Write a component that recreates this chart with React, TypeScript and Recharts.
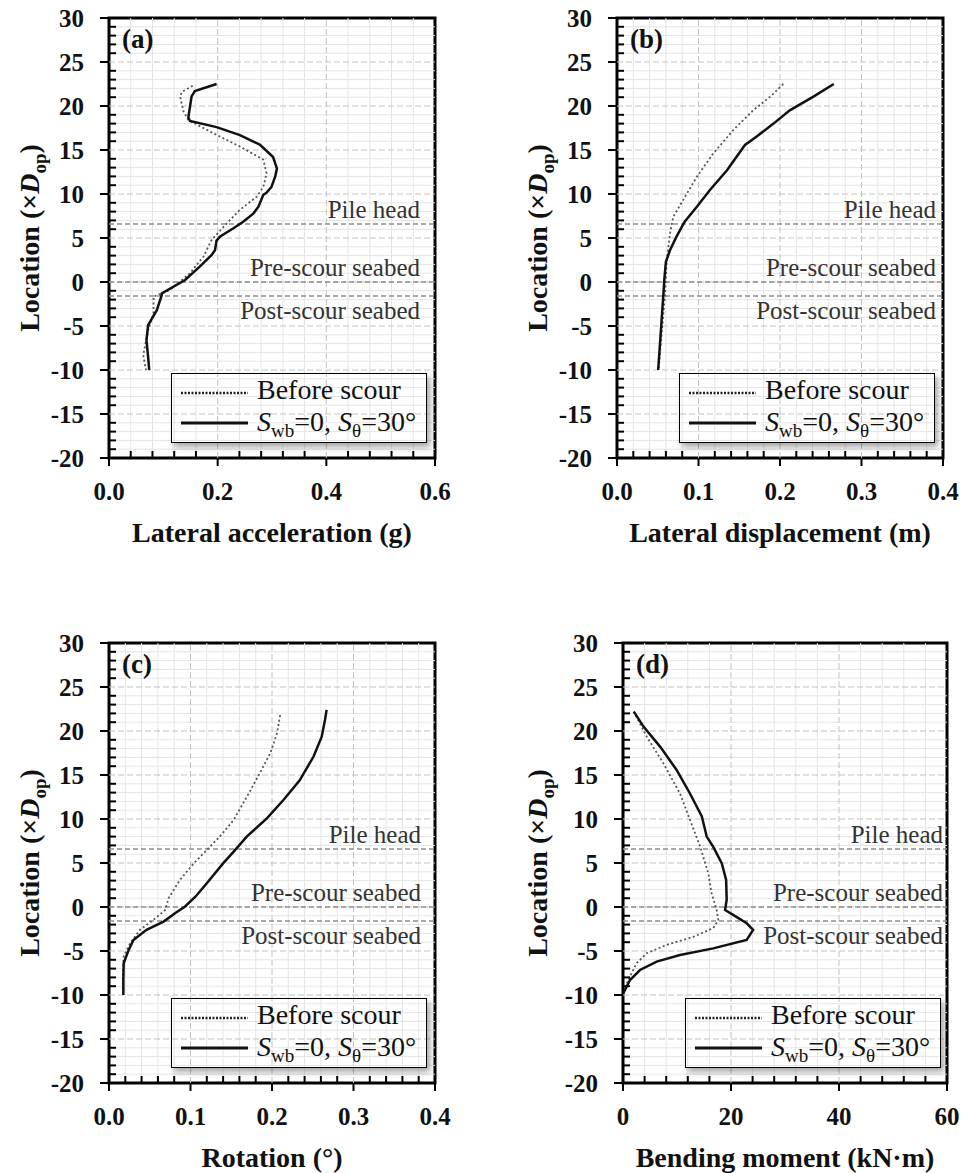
import { LineChart, Line, XAxis, YAxis, ReferenceLine, ReferenceArea } from 'recharts';

const SERIF = '"Liberation Serif", "Times New Roman", serif';
const INK = '#111';

// depth axis (×Dop), shared by all four panels
const yMajor = [-20, -15, -10, -5, 0, 5, 10, 15, 20, 25, 30];

const pileHead = 6.6;
const preScour = 0;
const postScour = -1.6;

// rows are [location (×Dop), value]
const accelBefore = [
  [22.3, 0.154], [21.6, 0.134], [21.06, 0.131], [19.4, 0.137], [18.4, 0.146], [16.9, 0.192],
  [15.4, 0.241], [13.9, 0.284], [12.35, 0.29], [10.8, 0.284], [9.7, 0.272], [8.2, 0.241],
  [6.67, 0.217], [4.8, 0.189], [2.9, 0.174], [0.98, 0.149], [-0.9, 0.112], [-1.67, 0.082],
  [-3.56, 0.082], [-5.45, 0.072], [-8.3, 0.063], [-10, 0.068],
];
const accelScour = [
  [22.5, 0.198], [21.7, 0.158], [21.1, 0.152], [18.7, 0.146], [18.3, 0.149], [17.6, 0.198],
  [16.7, 0.241], [15.6, 0.278], [14.2, 0.302], [12.9, 0.309], [12.0, 0.306], [10.8, 0.299],
  [10.15, 0.29], [9.9, 0.284], [8.56, 0.275], [7.8, 0.266], [6.85, 0.247], [6.1, 0.229],
  [5.15, 0.204], [4.7, 0.198], [3.6, 0.195], [3.07, 0.189], [1.74, 0.167], [0.23, 0.14],
  [-1.3, 0.097], [-1.5, 0.097], [-3.2, 0.088], [-4.9, 0.072], [-6.6, 0.069], [-8.5, 0.072],
  [-10, 0.074],
];

const dispBefore = [
  [22.5, 0.204], [21.06, 0.188], [19.5, 0.167], [17.3, 0.143], [14.6, 0.118], [11.97, 0.098],
  [9.3, 0.081], [7.4, 0.069], [5.5, 0.065], [2.5, 0.061], [-1.3, 0.059], [-10, 0.051],
];
const dispScour = [
  [22.5, 0.266], [21.06, 0.241], [19.5, 0.212], [18.0, 0.192], [16.5, 0.171], [15.57, 0.157],
  [12.7, 0.135], [10.45, 0.114], [8.56, 0.098], [6.85, 0.083], [5.15, 0.073], [3.6, 0.065],
  [2.3, 0.06], [0.2, 0.058], [-1.3, 0.057], [-10, 0.0505],
];

const rotBefore = [
  [21.8, 0.21], [19.7, 0.206], [17.5, 0.198], [15.2, 0.185], [12.5, 0.169], [9.9, 0.153],
  [8.0, 0.136], [6.48, 0.12], [4.96, 0.104], [3.07, 0.087], [0.99, 0.073], [-0.34, 0.069],
  [-1.5, 0.054], [-2.6, 0.038], [-4.1, 0.026], [-5.6, 0.018], [-7.5, 0.017], [-10, 0.017],
];
const rotScour = [
  [22.4, 0.267], [21.25, 0.265], [19.35, 0.261], [17.1, 0.251], [14.4, 0.234], [12.16, 0.214],
  [10.1, 0.194], [8.0, 0.169], [6.3, 0.153], [4.96, 0.14], [2.69, 0.12], [1.17, 0.106],
  [0.03, 0.093], [-0.7, 0.081], [-1.66, 0.067], [-2.6, 0.046], [-3.75, 0.03], [-4.9, 0.024],
  [-6.4, 0.018], [-8.3, 0.0176], [-10, 0.0176],
];

const momentBefore = [
  [22.2, 2.0], [19.35, 4.4], [16.3, 7.5], [12.9, 10.55], [9.9, 12.4], [6.85, 14.3], [3.8, 15.8],
  [1.55, 16.4], [-0.34, 17.35], [-1.5, 17.65], [-2.4, 16.7], [-3.4, 13.0], [-4.3, 8.1],
  [-5.26, 4.4], [-6.4, 2.5], [-7.9, 1.3], [-9.4, 0.19],
];
const momentScour = [
  [22.2, 2.0], [20.5, 3.8], [18.2, 6.9], [15.6, 9.9], [12.9, 12.4], [10.3, 14.6], [8.0, 15.5],
  [6.85, 16.7], [4.96, 18.3], [3.07, 19.1], [0.8, 19.2], [-0.34, 18.9], [-0.9, 20.4],
  [-1.85, 22.9], [-2.6, 24.1], [-3.75, 22.9], [-4.7, 16.7], [-5.45, 10.55], [-6.2, 6.24],
  [-7.16, 3.15], [-8.3, 1.3], [-9.8, 0.06],
];

const accelTicks = [0, 0.2, 0.4, 0.6];
const dispTicks = [0, 0.1, 0.2, 0.3, 0.4];
const rotTicks = [0, 0.1, 0.2, 0.3, 0.4];
const momentTicks = [0, 20, 40, 60];

const PLOT_LEFT = 109;
const PLOT_TOP = 20;
const PLOT_H = 440;
const X_AXIS_H = 110;

const panels = [
  { tag: '(a)', title: 'Lateral acceleration (g)', ticks: accelTicks, step: 0.04, digits: 1, before: accelBefore, scour: accelScour, left: 0, top: -2, plotW: 326, inset: 15, titleGap: 80 },
  { tag: '(b)', title: 'Lateral displacement (m)', ticks: dispTicks, step: 0.02, digits: 1, before: dispBefore, scour: dispScour, left: 508, top: -2, plotW: 326, inset: 7, titleGap: 80 },
  { tag: '(c)', title: 'Rotation (°)', ticks: rotTicks, step: 0.02, digits: 1, before: rotBefore, scour: rotScour, left: 0, top: 623, plotW: 326, inset: 14, titleGap: 80 },
  { tag: '(d)', title: 'Bending moment (kN·m)', ticks: momentTicks, step: 4, digits: 0, before: momentBefore, scour: momentScour, left: 514, top: 623, plotW: 324, inset: 4, titleGap: 86 },
];

const between = (lo: number, hi: number, step: number, skip: number[]) => {
  const out: number[] = [];
  const n = Math.round((hi - lo) / step);
  for (let k = 1; k < n; k++) {
    const v = +(lo + k * step).toFixed(6);
    if (!skip.some((s) => Math.abs(s - v) < 1e-9)) out.push(v);
  }
  return out;
};
const hasValue = (list: number[], v: number) => list.some((m) => Math.abs(m - v) < 1e-9);
const toPts = (rows: number[][]) => rows.map(([loc, v]) => ({ loc, v }));

const tickText = { fontFamily: SERIF, fontWeight: 'bold' as const, fontSize: 25, fill: INK };

const XTick = ({ x, y, payload, majors, digits }: any) => {
  const v = payload.value;
  const major = hasValue(majors, v);
  const axisY = y - 24;
  return (
    <g>
      <line x1={x} x2={x} y1={axisY} y2={major ? axisY + 8 : axisY - 7} stroke="#000" strokeWidth={2} />
      {major && (
        <text x={x} y={y} dy="0.71em" textAnchor="middle" {...tickText}>
          {v.toFixed(digits)}
        </text>
      )}
    </g>
  );
};

const YTick = ({ x, y, payload }: any) => {
  const v = payload.value;
  const major = hasValue(yMajor, v);
  const axisX = x + 25;
  return (
    <g>
      <line x1={axisX} x2={major ? axisX - 9 : axisX + 7} y1={y} y2={y} stroke="#000" strokeWidth={2} />
      {major && (
        <text x={x} y={y} dy="0.35em" textAnchor="end" {...tickText}>
          {v}
        </text>
      )}
    </g>
  );
};

const box = (props: any) => props.viewBox ?? { x: 0, y: 0, width: 0, height: 0 };

const yTitle = (gap: number) => (props: any) => {
  const vb = box(props);
  const cx = vb.x + vb.width - gap;
  const cy = vb.y + vb.height / 2;
  return (
    <text x={cx} y={cy} dy="0.35em" transform={`rotate(-90 ${cx} ${cy})`} textAnchor="middle"
      fontFamily={SERIF} fontWeight="bold" fontSize={28} fill={INK}>
      Location (×<tspan fontStyle="italic">D</tspan>
      <tspan dy={7} fontSize={19}>op</tspan>
      <tspan dy={-7}>)</tspan>
    </text>
  );
};

const xTitle = (title: string) => (props: any) => {
  const vb = box(props);
  return (
    <text x={vb.x + vb.width / 2} y={vb.y + 84} textAnchor="middle"
      fontFamily={SERIF} fontWeight="bold" fontSize={28} fill={INK}>
      {title}
    </text>
  );
};

const markLabel = (text: string, inset: number, below: boolean) => (props: any) => {
  const vb = box(props);
  return (
    <text x={vb.x + vb.width - inset} y={below ? vb.y + 23 : vb.y - 6} textAnchor="end"
      fontFamily={SERIF} fontSize={25} fill="#333">
      {text}
    </text>
  );
};

const LegendBox = () => (
  <div style={{
    position: 'absolute', left: PLOT_LEFT + 62, top: PLOT_TOP + 355, width: 256, height: 70,
    border: '1.5px solid #000', boxSizing: 'border-box', boxShadow: '3px 4px 6px rgba(0,0,0,0.35)',
  }}>
    <svg width={254} height={68} style={{ display: 'block' }}>
      <line x1={9} x2={76} y1={19} y2={19} stroke="#222" strokeWidth={2.5} strokeDasharray="2 1.5" />
      <text x={85} y={25} fontFamily={SERIF} fontSize={28} fill={INK}>Before scour</text>
      <line x1={9} x2={76} y1={49} y2={49} stroke="#111" strokeWidth={3} />
      <text x={85} y={57} fontFamily={SERIF} fontSize={28} fill={INK}>
        <tspan fontStyle="italic">S</tspan>
        <tspan dy={6} fontSize={19}>wb</tspan>
        <tspan dy={-6}>=0, </tspan>
        <tspan fontStyle="italic">S</tspan>
        <tspan dy={6} fontSize={19}>θ</tspan>
        <tspan dy={-6}>=30°</tspan>
      </text>
    </svg>
  </div>
);

const PanelTag = ({ tag }: { tag: string }) => (
  <svg width={60} height={44} style={{ position: 'absolute', left: PLOT_LEFT, top: PLOT_TOP, pointerEvents: 'none' }}>
    <text x={13} y={30} fontFamily={SERIF} fontWeight="bold" fontSize={27} fill={INK}>{tag}</text>
  </svg>
);

const Panel = ({ p }: { p: (typeof panels)[number] }) => {
  const xMin = p.ticks[0];
  const xMax = p.ticks[p.ticks.length - 1];
  const xMinor = between(xMin, xMax, p.step, p.ticks);
  const yMinor = between(-20, 30, 1, yMajor);
  const xAll = [...p.ticks, ...xMinor].sort((a, b) => a - b);
  const yAll = [...yMajor, ...yMinor].sort((a, b) => a - b);
  const xInner = p.ticks.slice(1, -1);
  const yInner = yMajor.slice(1, -1);
  const width = PLOT_LEFT + p.plotW + 20;

  return (
    <div style={{ position: 'absolute', left: p.left, top: p.top }}>
      <LineChart width={width} height={PLOT_TOP + PLOT_H + X_AXIS_H}
        margin={{ top: PLOT_TOP, right: 20, bottom: 0, left: PLOT_LEFT - 100 }}>
        <XAxis type="number" dataKey="v" domain={[xMin, xMax]} allowDataOverflow ticks={xAll} interval={0}
          tickSize={0} tickMargin={24} axisLine={false} tickLine={false} height={X_AXIS_H}
          tick={(t: any) => <XTick {...t} majors={p.ticks} digits={p.digits} />} label={xTitle(p.title)} />
        <YAxis type="number" domain={[-20, 30]} allowDataOverflow ticks={yAll} interval={0}
          tickSize={0} tickMargin={25} axisLine={false} tickLine={false} width={100}
          tick={(t: any) => <YTick {...t} />} label={yTitle(p.titleGap)} />

        {xMinor.map((v) => <ReferenceLine key={`xm${v}`} x={v} stroke="#e4e4e4" strokeWidth={1} />)}
        {yMinor.map((v) => <ReferenceLine key={`ym${v}`} y={v} stroke="#e4e4e4" strokeWidth={1} />)}
        {xInner.map((v) => <ReferenceLine key={`xM${v}`} x={v} stroke="#c2c2c2" strokeDasharray="6 3" />)}
        {yInner.map((v) => <ReferenceLine key={`yM${v}`} y={v} stroke="#c2c2c2" strokeDasharray="6 3" />)}

        <ReferenceLine y={pileHead} stroke="#8f8f8f" strokeWidth={1.5} strokeDasharray="5 3"
          label={markLabel('Pile head', p.inset, false)} />
        <ReferenceLine y={preScour} stroke="#8f8f8f" strokeWidth={1.5} strokeDasharray="5 3"
          label={markLabel('Pre-scour seabed', p.inset, false)} />
        <ReferenceLine y={postScour} stroke="#8f8f8f" strokeWidth={1.5} strokeDasharray="5 3"
          label={markLabel('Post-scour seabed', p.inset, true)} />

        <Line data={toPts(p.before)} dataKey="loc" type="linear" stroke="#555" strokeWidth={1.8}
          strokeDasharray="2 2.5" dot={false} activeDot={false} isAnimationActive={false} />
        <Line data={toPts(p.scour)} dataKey="loc" type="linear" stroke={INK} strokeWidth={2.5}
          dot={false} activeDot={false} isAnimationActive={false} />

        <ReferenceArea x1={xMin} x2={xMax} y1={-20} y2={30} fill="none" fillOpacity={0}
          stroke="#000" strokeWidth={3} />
      </LineChart>
      <PanelTag tag={p.tag} />
      <LegendBox />
    </div>
  );
}

export default function App() {
  return (
    <div style={{ position: 'absolute', left: 0, top: 0, width: 964, height: 1173, background: '#fff' }}>
      {panels.map((p) => <Panel key={p.tag} p={p} />)}
    </div>
  );
}
